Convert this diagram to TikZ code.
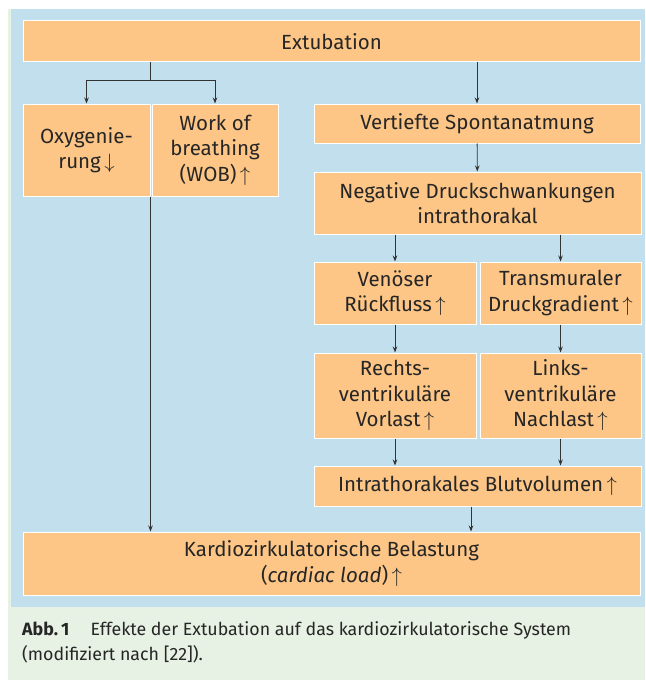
\documentclass[tikz,border=0pt]{standalone}
\usepackage{amsmath,amssymb}
\usepackage{fontspec}
\setmainfont{Fira Sans}
\usetikzlibrary{arrows.meta}
\definecolor{orange1}{HTML}{FDC686}
\definecolor{blau1}{HTML}{C2DFEE}
\definecolor{gruen1}{HTML}{E7F1E4}
\definecolor{pfeilgrau}{HTML}{333333}
\newcommand{\hoch}{\,$\uparrow$}
\newcommand{\runter}{\,$\downarrow$}

\begin{document}
\begin{tikzpicture}[x=1pt,y=-1pt,
  kasten/.style={draw=white,line width=1pt,fill=orange1,align=center,inner sep=0pt,
    font=\fontsize{20.5}{25.5}\selectfont,text=black!85},
  pfeil/.style={draw=pfeilgrau,line width=.8pt,-{Stealth[length=6pt,width=4.5pt]}}]
  % Hintergrund
  \useasboundingbox (0,0) rectangle (645,685);
  \fill[white] (0,0) rectangle (645,685);
  \fill[gruen1] (8,9) rectangle (645,680);
  \fill[blau1] (11,9) rectangle (645,607);
  % Kaesten
  \node[kasten,minimum width=617,minimum height=41] (extub) at (331.5,41.5) {Extubation};
  \node[kasten,minimum width=127,minimum height=92] (oxy) at (86.5,150) {Oxygenie-\\rung\runter};
  \node[kasten,minimum width=126,minimum height=92] (wob) at (215,150) {Work of\\breathing\\(WOB)\hoch};
  \node[kasten,minimum width=326,minimum height=39] (spont) at (477,123.5) {Vertiefte Spontanatmung};
  \node[kasten,minimum width=327,minimum height=62] (druck) at (477.5,203) {Negative Druckschwankungen\\intrathorakal};
  \node[kasten,minimum width=162,minimum height=62] (venoes) at (395,293) {Venöser\\Rückfluss\hoch};
  \node[kasten,minimum width=161,minimum height=62] (transm) at (560.5,293) {Transmuraler\\Druckgradient\hoch};
  \node[kasten,minimum width=162,minimum height=85] (rechts) at (395,395.5) {Rechts-\\ventrikuläre\\Vorlast\hoch};
  \node[kasten,minimum width=161,minimum height=85] (links) at (560.5,395.5) {Links-\\ventrikuläre\\Nachlast\hoch};
  \node[kasten,minimum width=327,minimum height=40] (blut) at (477.5,486) {Intrathorakales Blutvolumen\hoch};
  \node[kasten,minimum width=617,minimum height=63] (kardio) at (331.5,563.5) {Kardiozirkulatorische Belastung\\(\textit{cardiac load})\hoch};
  % Verbindungen
  \coordinate (gabel) at (oxy.east |- 0,80);
  \draw[draw=pfeilgrau,line width=.8pt] (oxy.east |- extub.south) -- (gabel);
  \draw[pfeil] (gabel) -| (oxy.north);
  \draw[pfeil] (gabel) -| (wob.north);
  \draw[pfeil] (extub.south -| spont.north) -- (spont.north);
  \draw[pfeil] (spont) -- (druck);
  \draw[pfeil] (druck.south -| venoes.north) -- (venoes.north);
  \draw[pfeil] (druck.south -| transm.north) -- (transm.north);
  \draw[pfeil] (venoes) -- (rechts);
  \draw[pfeil] (transm) -- (links);
  \draw[pfeil] (rechts.south) -- (rechts.south |- blut.north);
  \draw[pfeil] (links.south) -- (links.south |- blut.north);
  \draw[pfeil] ([xshift=-6.5pt]blut.south) -- ([xshift=-6.5pt]blut.south |- kardio.north);
  \draw[pfeil] (oxy.south east) -- (oxy.south east |- kardio.north);
  % Bildunterschrift
  \node[anchor=north west,align=left,inner sep=0pt,font=\fontsize{17.8}{25}\selectfont,text=black!85] (legende) at (22,621)
    {\textbf{Abb.\,1}\hspace{1.2em}Effekte der Extubation auf das kardiozirkulatorische System\\(modifiziert nach [22]).};
\end{tikzpicture}
\end{document}
